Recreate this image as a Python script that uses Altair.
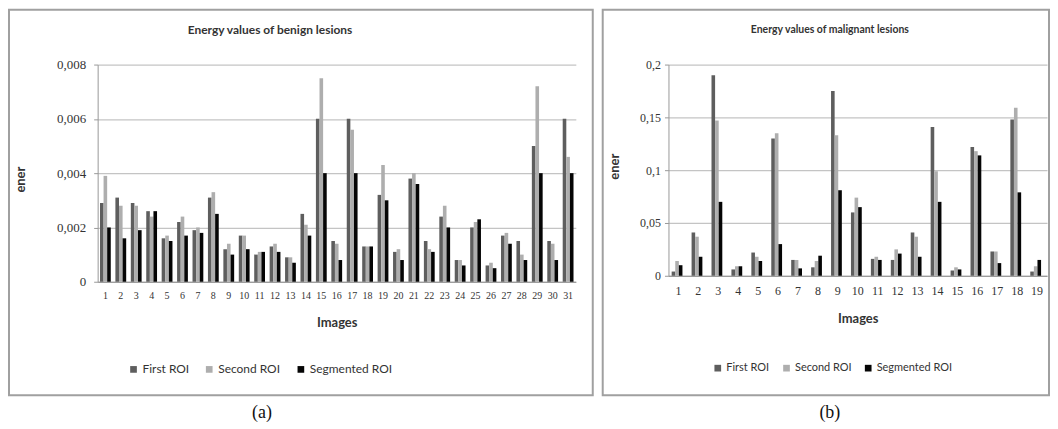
import altair as alt
import pandas as pd

series = ["First ROI", "Second ROI", "Segmented ROI"]
colors = ["#5e5e5e", "#aeaeae", "#050505"]

benign_images = list(range(1, 32))
benign_first = [0.0029, 0.0031, 0.0029, 0.0026, 0.0016, 0.0022, 0.0019, 0.0031, 0.0012, 0.0017,
                0.0010, 0.0013, 0.0009, 0.0025, 0.0060, 0.0015, 0.0060, 0.0013, 0.0032, 0.0011,
                0.0038, 0.0015, 0.0024, 0.0008, 0.0020, 0.0006, 0.0017, 0.0015, 0.0050, 0.0015,
                0.0060]
benign_second = [0.0039, 0.0028, 0.0028, 0.0024, 0.0017, 0.0024, 0.0020, 0.0033, 0.0014, 0.0017,
                 0.0011, 0.0014, 0.0009, 0.0021, 0.0075, 0.0014, 0.0056, 0.0013, 0.0043, 0.0012,
                 0.0040, 0.0012, 0.0028, 0.0008, 0.0022, 0.0007, 0.0018, 0.0010, 0.0072, 0.0014,
                 0.0046]
benign_seg = [0.0020, 0.0016, 0.0019, 0.0026, 0.0015, 0.0017, 0.0018, 0.0025, 0.0010, 0.0012,
              0.0011, 0.0011, 0.0007, 0.0017, 0.0040, 0.0008, 0.0040, 0.0013, 0.0030, 0.0008,
              0.0036, 0.0011, 0.0020, 0.0006, 0.0023, 0.0005, 0.0014, 0.0008, 0.0040, 0.0008,
              0.0040]

malig_images = list(range(1, 20))
malig_first = [0.004, 0.041, 0.190, 0.006, 0.022, 0.130, 0.015, 0.008, 0.175, 0.060,
               0.016, 0.015, 0.041, 0.141, 0.005, 0.122, 0.023, 0.148, 0.004]
malig_second = [0.014, 0.037, 0.147, 0.009, 0.018, 0.135, 0.015, 0.014, 0.133, 0.074,
                0.018, 0.025, 0.037, 0.099, 0.008, 0.118, 0.023, 0.159, 0.009]
malig_seg = [0.010, 0.018, 0.070, 0.009, 0.014, 0.030, 0.007, 0.019, 0.081, 0.065,
             0.015, 0.021, 0.018, 0.070, 0.006, 0.114, 0.012, 0.079, 0.015]


def long_df(images, a, b, c):
    rows = []
    for i, img in enumerate(images):
        for s, vals in zip(series, (a, b, c)):
            rows.append({"image": img, "series": s, "value": vals[i]})
    return pd.DataFrame(rows)


one = alt.Data(values=[{"k": 1}])
sans = "Lato"
serif = "Liberation Serif"
label_expr = "datum.value == 0 ? '0' : replace(format(datum.value, '~g'), '.', ',')"


def panel(df, title, ticks, pw, ph, box, title_pos, caption, cap_pos,
          ylab_size, ylab_pad, xlab_size, xlab_pad, ytitle_pos, xtitle_y,
          legend_pos, legend_size, legend_gap, title_size, pad_inner):
    bars = alt.Chart(df).mark_bar().encode(
        x=alt.X("image:O",
                scale=alt.Scale(paddingInner=pad_inner, paddingOuter=pad_inner / 2),
                axis=alt.Axis(title="Images", labelAngle=0, ticks=False,
                              labelFont=serif, labelFontSize=xlab_size,
                              labelPadding=xlab_pad, labelColor="#333",
                              titleFont=sans, titleFontSize=13, titleFontWeight="bold",
                              titleColor="#333", titleY=xtitle_y, titleBaseline="middle",
                              domainColor="#8a8a8a")),
        xOffset=alt.XOffset("series:N", sort=series, scale=alt.Scale(paddingInner=0)),
        y=alt.Y("value:Q",
                scale=alt.Scale(domain=[0, ticks[-1]], nice=False),
                axis=alt.Axis(title="ener", values=ticks, labelExpr=label_expr,
                              labelFont=serif, labelFontSize=ylab_size,
                              labelPadding=ylab_pad, labelColor="#333",
                              tickSize=4, tickColor="#999", domainColor="#999",
                              gridColor="#c4c4c4", gridWidth=1.2,
                              titleFont=sans, titleFontSize=13, titleFontWeight="bold",
                              titleColor="#333", titleAngle=270,
                              titleX=ytitle_pos[0], titleY=ytitle_pos[1],
                              titleAlign="center", titleBaseline="middle")),
        color=alt.Color("series:N", sort=series,
                        scale=alt.Scale(domain=series, range=colors),
                        legend=alt.Legend(title=None, orient="none", direction="horizontal",
                                          legendX=legend_pos[0], legendY=legend_pos[1],
                                          symbolType="square", symbolSize=45,
                                          symbolStrokeWidth=0,
                                          labelFont=sans, labelFontSize=legend_size,
                                          labelColor="#333", columnPadding=legend_gap,
                                          labelOffset=3, padding=0)),
    )
    frame = alt.Chart(one).mark_rect(fillOpacity=0, stroke="#a0a0a0", strokeWidth=2).encode(
        x=alt.value(box[0]), x2=alt.value(box[1]), y=alt.value(box[2]), y2=alt.value(box[3]))
    ttl = alt.Chart(one).mark_text(text=title, font=sans, fontSize=title_size,
                                   fontWeight="bold", color="#333").encode(
        x=alt.value(title_pos[0]), y=alt.value(title_pos[1]))
    cap = alt.Chart(one).mark_text(text=caption, font=serif, fontSize=18, color="#111").encode(
        x=alt.value(cap_pos[0]), y=alt.value(cap_pos[1]))
    return alt.layer(frame, bars, ttl, cap).properties(width=pw, height=ph)


left = panel(long_df(benign_images, benign_first, benign_second, benign_seg),
             "Energy values of benign lesions",
             [0, 0.002, 0.004, 0.006, 0.008], 480, 218,
             (-89, 497, -55, 332), (173, -35), "(a)", (165, 350),
             13, 8, 10, 9, (-77, 115), 41, (30, 300), 12, 14, 12, 0.3)

right = panel(long_df(malig_images, malig_first, malig_second, malig_seg),
              "Energy values of malignant lesions",
              [0, 0.05, 0.1, 0.15, 0.2], 380, 212,
              (-66, 382, -55, 332), (162, -35), "(b)", (162, 350),
              12, 4, 12, 10, (-54, 102), 43, (44, 299), 11, 11, 10.5, 0.32)

chart = alt.hconcat(left, right, spacing=8).resolve_scale(
    color="independent", x="independent", y="independent"
).resolve_legend(color="independent").properties(padding=0).configure_view(stroke=None)

chart.save("out.html", embed_options={"renderer": "svg", "actions": False})
